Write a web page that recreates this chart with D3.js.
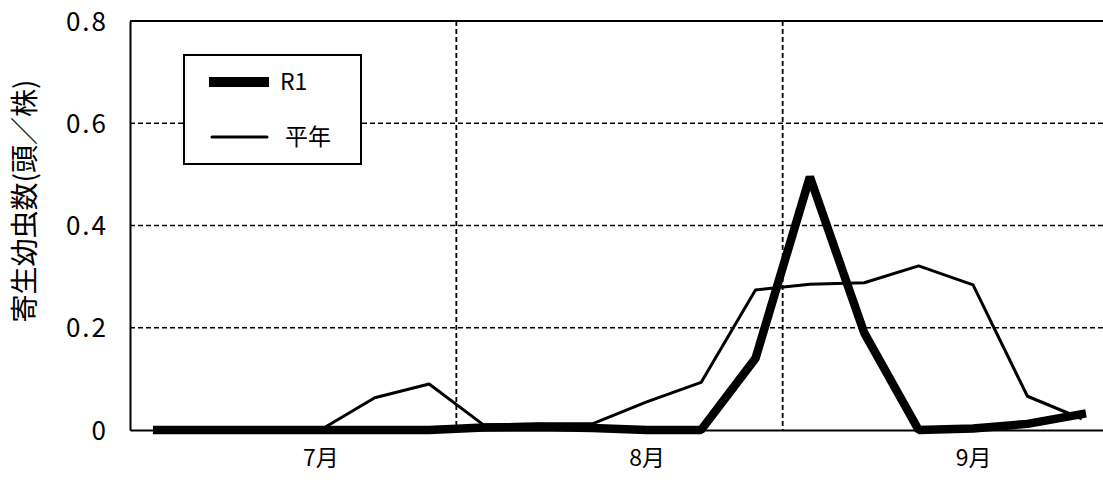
<!DOCTYPE html>
<html>
<head>
<meta charset="utf-8">
<script src="https://cdn.jsdelivr.net/npm/d3@7"></script>
<style>
  html, body { margin: 0; padding: 0; background: #fff; }
  svg { display: block; }
  text { font-family: "Noto Sans CJK JP", "Noto Sans", sans-serif; fill: #000; }
</style>
</head>
<body>
<svg id="chart" width="1103" height="480"></svg>
<script>
// 半旬 (5-day periods), July–September
const pentads = [
  "7-1","7-2","7-3","7-4","7-5","7-6",
  "8-1","8-2","8-3","8-4","8-5","8-6",
  "9-1","9-2","9-3","9-4","9-5","9-6"
];
// Month labels, placed on the 4th pentad of each month
const monthLabels = ["7月", "8月", "9月"];
const monthLabelPentads = ["7-4", "8-4", "9-4"];
// Month boundaries (between pentad 6 and pentad 1 of the next month)
const monthBreaks = ["7-6", "8-6"];

// 寄生幼虫数 (頭／株)
const seriesR1 = [0, 0, 0, 0, 0, 0, 0.005, 0.006, 0.004, 0, 0, 0.14, 0.495, 0.19, 0, 0.003, 0.012, 0.031];
const seriesNormal = [0, 0, 0, 0, 0.063, 0.09, 0.01, 0.012, 0.012, 0.055, 0.093, 0.274, 0.285, 0.288, 0.321, 0.284, 0.066, 0.022];

const yTicks = [0, 0.2, 0.4, 0.6, 0.8];
const yTickLabels = ["0", "0.2", "0.4", "0.6", "0.8"];

const svg = d3.select("#chart");
const plot = { left: 130, right: 1109, top: 21, bottom: 430 };

const x = d3.scalePoint().domain(pentads).range([plot.left, plot.right]).padding(0.5);
const step = x.step();
const y = d3.scaleLinear().domain([0, 0.8]).range([plot.bottom, plot.top]);

// horizontal grid lines
svg.append("g")
  .selectAll("line")
  .data(yTicks.filter(d => d > 0 && d < 0.8))
  .join("line")
  .attr("x1", plot.left).attr("x2", plot.right)
  .attr("y1", d => y(d)).attr("y2", d => y(d))
  .attr("stroke", "#000").attr("stroke-width", 1.5)
  .attr("stroke-dasharray", "5,3");

// month separators
svg.append("g")
  .selectAll("line")
  .data(monthBreaks)
  .join("line")
  .attr("x1", d => x(d) + step / 2).attr("x2", d => x(d) + step / 2)
  .attr("y1", plot.top).attr("y2", plot.bottom)
  .attr("stroke", "#000").attr("stroke-width", 1.8)
  .attr("stroke-dasharray", "5,3");

// frame: top, left, bottom
svg.append("line")
  .attr("x1", plot.left).attr("x2", plot.right)
  .attr("y1", y(0.8)).attr("y2", y(0.8))
  .attr("stroke", "#000").attr("stroke-width", 2);

const yAxis = d3.axisLeft(y).tickValues(yTicks).tickSize(0).tickPadding(22)
  .tickFormat((d, i) => yTickLabels[i]);
const gy = svg.append("g").attr("transform", `translate(${plot.left},0)`).call(yAxis);
gy.select(".domain").attr("stroke", "#000").attr("stroke-width", 2);
gy.selectAll("text")
  .style("font-family", "'Noto Sans CJK JP', sans-serif")
  .style("font-size", "26px")
  .style("letter-spacing", "2px")
  .attr("dy", "0.35em");

const xAxis = d3.axisBottom(x).tickValues(monthLabelPentads).tickSize(0).tickPadding(22)
  .tickFormat((d, i) => monthLabels[i]);
const gx = svg.append("g").attr("transform", `translate(0,${plot.bottom})`).call(xAxis);
gx.select(".domain").attr("stroke", "#000").attr("stroke-width", 2);
gx.selectAll("text")
  .style("font-family", "'Noto Sans CJK JP', sans-serif")
  .style("font-size", "23px")
  .attr("dy", "0.6em");

// y-axis title
svg.append("text")
  .attr("transform", "translate(25,201) rotate(-90)")
  .attr("text-anchor", "middle")
  .attr("dy", "0.35em")
  .style("font-size", "28px")
  .text("寄生幼虫数(頭／株)");

const line = d3.line()
  .x((d, i) => x(pentads[i]))
  .y(d => y(d));

svg.append("path")
  .datum(seriesNormal)
  .attr("d", line)
  .attr("fill", "none")
  .attr("stroke", "#000")
  .attr("stroke-width", 3)
  .attr("stroke-linejoin", "round");

svg.append("path")
  .datum(seriesR1)
  .attr("d", line)
  .attr("fill", "none")
  .attr("stroke", "#000")
  .attr("stroke-width", 8.5)
  .attr("stroke-linecap", "square")
  .attr("stroke-linejoin", "bevel");

// legend
const legend = svg.append("g");
legend.append("rect")
  .attr("x", 184).attr("y", 55).attr("width", 177).attr("height", 109)
  .attr("fill", "#fff").attr("stroke", "#000").attr("stroke-width", 2);
const legendItems = [
  { name: "R1", width: 10, y: 82, x1: 209, x2: 269, tx: 280, size: 23 },
  { name: "平年", width: 3, y: 137, x1: 212, x2: 267, tx: 285, size: 23 }
];
legend.selectAll("line.key")
  .data(legendItems)
  .join("line")
  .attr("class", "key")
  .attr("x1", d => d.x1).attr("x2", d => d.x2)
  .attr("y1", d => d.y).attr("y2", d => d.y)
  .attr("stroke", "#000")
  .attr("stroke-width", d => d.width)
  .attr("stroke-linecap", d => d.width > 5 ? "butt" : "round");
legend.selectAll("text")
  .data(legendItems)
  .join("text")
  .attr("x", d => d.tx).attr("y", d => d.y)
  .attr("dy", "0.35em")
  .style("font-size", d => d.size + "px")
  .text(d => d.name);
</script>
</body>
</html>
